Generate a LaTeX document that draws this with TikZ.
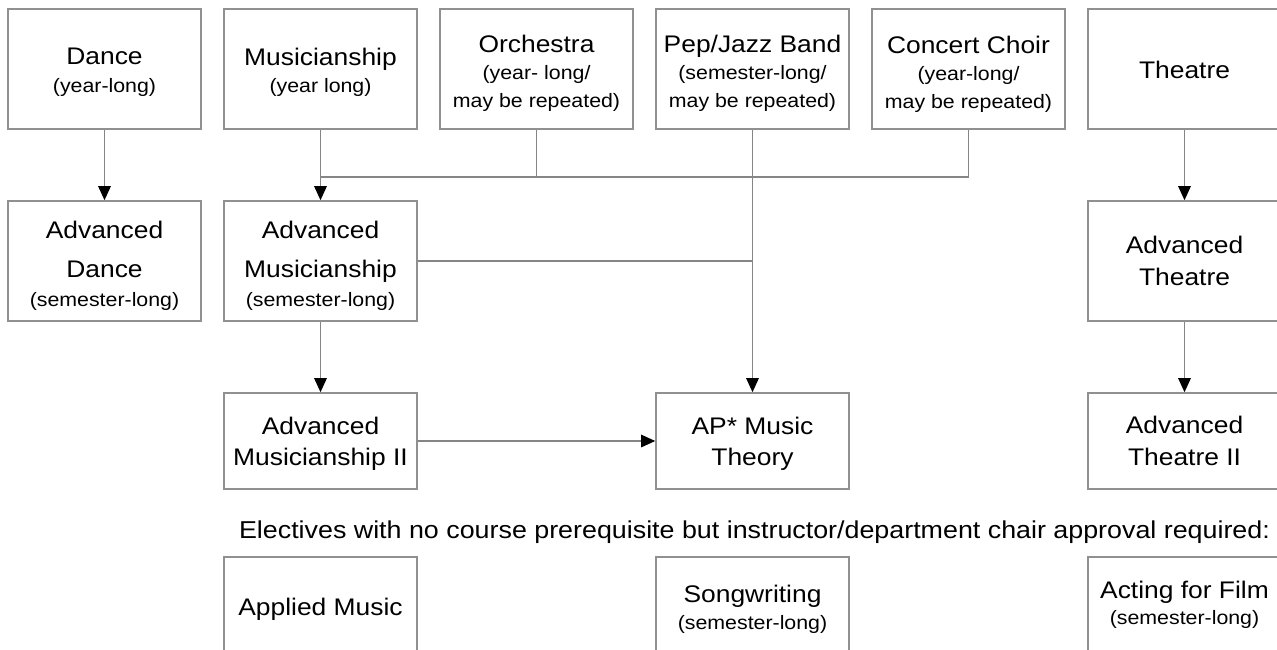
\documentclass[tikz,border=0pt]{standalone}
\usepackage{fontspec}
\setmainfont{Liberation Sans}[FakeStretch=1.1]
\usetikzlibrary{arrows.meta}
\definecolor{boxgray}{HTML}{909090}
\definecolor{linegray}{HTML}{858585}
\newcommand\coursefont{\fontsize{24}{27.5}\selectfont}
\newcommand\notefont{\fontsize{19.4}{26}\selectfont}
\newcommand\captionfont{\fontsize{24.4}{27.5}\selectfont}
\begin{document}
\begin{tikzpicture}[x=1pt,y=-1pt,
  course/.style={draw=boxgray, line width=1.6pt, fill=white,
    minimum width=193pt, minimum height=120pt, inner sep=0pt},
  short/.style={course, minimum height=96pt},
  title/.style={align=center, font=\coursefont, text=black, inner sep=0pt, anchor=north},
  oneline/.style={title, anchor=base},
  link/.style={draw=linegray, line width=1.3pt},
  feed/.style={link, -{Triangle[length=14pt,width=12.5pt,color=black]}},
]
\useasboundingbox (0,0) rectangle (1277,649);
\clip (0,0) rectangle (1277,649);

% course boxes
\node[course] (dance)    at (104.5,69)  {};
\node[course] (mus)      at (320.5,69)  {};
\node[course] (orch)     at (536.5,69)  {};
\node[course] (pep)      at (752.5,69)  {};
\node[course] (choir)    at (968.5,69)  {};
\node[course] (theatre)  at (1184.5,69) {};
\node[course] (advdance) at (104.5,261) {};
\node[course] (advmus)   at (320.5,261) {};
\node[course] (advth)    at (1184.5,261) {};
\node[short]  (advmus2)  at (320.5,441) {};
\node[short]  (ap)       at (752.5,441) {};
\node[short]  (advth2)   at (1184.5,441) {};
\node[short]  (applied)  at (320.5,605) {};
\node[short]  (song)     at (752.5,605) {};
\node[short]  (film)     at (1184.5,605) {};

% course titles (placed by the top of their first line)
\node[title] (dance-t)   at (104.5,47.8) {Dance\\{\notefont (year-long)}};
\node[title] (mus-t)     at (320.5,47.8) {Musicianship\\{\notefont (year long)}};
\node[title] (orch-t)    at (536.5,34.8) {Orchestra\\{\notefont (year- long/}\\{\notefont may be repeated)}};
\node[title] (pep-t)     at (752.5,34.8) {Pep/Jazz Band\\{\notefont (semester-long/}\\{\notefont may be repeated)}};
\node[title] (choir-t)   at (968.5,35.8) {Concert Choir\\{\notefont (year-long/}\\{\notefont may be repeated)}};
\node[oneline] (theatre-t) at (1184.5,78) {Theatre};

\node[title] (advdance-t) at (104.5,220.8) {Advanced\\[11.5pt]Dance\\[2pt]{\notefont (semester-long)}};
\node[title] (advmus-t)   at (320.5,220.8) {Advanced\\[11.5pt]Musicianship\\[2pt]{\notefont (semester-long)}};
\node[title] (advth-t)    at (1184.5,235.8) {Advanced\\[4.5pt]Theatre};

\node[title] (advmus2-t) at (320.5,416.8) {Advanced\\[3.5pt]Musicianship II};
\node[title] (ap-t)      at (752.5,416.8) {AP* Music\\[3.5pt]Theory};
\node[title] (advth2-t)  at (1184.5,415.8) {Advanced\\[4.5pt]Theatre II};

\node[oneline, font=\captionfont] (note) at (754.5,538.5)
  {Electives with no course prerequisite but instructor/department chair approval required:};
\node[oneline] (applied-t) at (320.5,615) {Applied Music};
\node[title] (song-t) at (752.5,584.8) {Songwriting\\[-0.5pt]{\notefont (semester-long)}};
\node[title] (film-t) at (1184.5,580.8) {Acting for Film\\[-1.5pt]{\notefont (semester-long)}};

% prerequisite connectors
\coordinate (bus) at (0,177);
\draw[link] (orch.south) -- (orch.south |- bus);
\draw[link] (choir.south) -- (choir.south |- bus) -- (mus.south |- bus);
\draw[feed] (mus) -- (advmus);
\draw[feed] (pep) -- (ap);
\draw[link] (advmus.east) -- (advmus.east -| pep.south);
\draw[feed] (dance) -- (advdance);
\draw[feed] (advmus) -- (advmus2);
\draw[feed] (advmus2) -- (ap);
\draw[feed] (theatre) -- (advth);
\draw[feed] (advth) -- (advth2);
\end{tikzpicture}
\end{document}
